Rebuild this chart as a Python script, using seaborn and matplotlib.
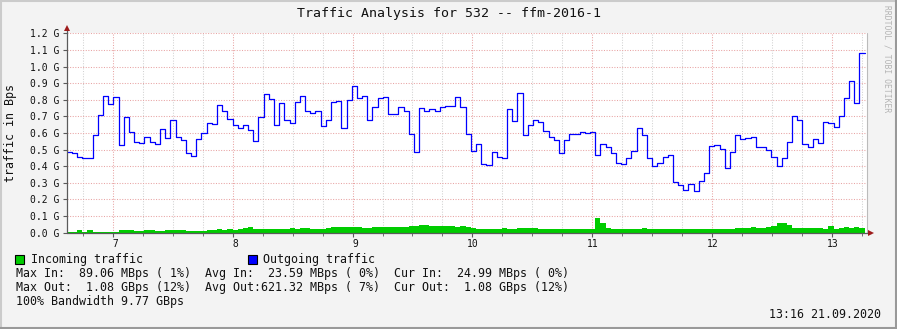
import numpy as np
import pandas as pd
import seaborn as sns
import matplotlib
matplotlib.use("Agg")
import matplotlib.pyplot as plt
from matplotlib.patches import Rectangle
from matplotlib.lines import Line2D
from matplotlib.ticker import FixedLocator, MultipleLocator

# ---------------- data (values in G Bps) ----------------
outgoing = [
    0.484, 0.478, 0.454, 0.448, 0.448, 0.586, 0.706, 0.821, 0.773, 0.815,
    0.526, 0.694, 0.604, 0.544, 0.538, 0.574, 0.544, 0.532, 0.622, 0.568,
    0.676, 0.574, 0.556, 0.478, 0.460,
    0.562, 0.598, 0.658, 0.652, 0.767, 0.732, 0.682, 0.646, 0.628, 0.646,
    0.616, 0.550, 0.694, 0.833, 0.803, 0.646, 0.779, 0.676, 0.658, 0.785,
    0.821, 0.730, 0.718, 0.730, 0.640, 0.676,
    0.785, 0.791, 0.628, 0.797, 0.881, 0.809, 0.821, 0.676, 0.755, 0.809,
    0.815, 0.712, 0.712, 0.755, 0.730, 0.592, 0.484, 0.749, 0.730, 0.742,
    0.730, 0.755, 0.761, 0.761, 0.815, 0.755,
    0.592, 0.490, 0.532, 0.411, 0.405, 0.484, 0.454, 0.448, 0.742, 0.670,
    0.839, 0.586, 0.646, 0.676, 0.664, 0.610, 0.574, 0.556, 0.478, 0.556,
    0.592, 0.592, 0.604, 0.598, 0.604, 0.466,
    0.532, 0.514, 0.478, 0.417, 0.411, 0.448, 0.490, 0.628, 0.586, 0.448,
    0.399, 0.417, 0.454, 0.466, 0.303, 0.285, 0.255, 0.291, 0.249, 0.309,
    0.357, 0.520, 0.526, 0.502, 0.387, 0.484,
    0.586, 0.562, 0.568, 0.574, 0.514, 0.514, 0.496, 0.454, 0.399, 0.448,
    0.544, 0.700, 0.676, 0.532, 0.514, 0.562, 0.538, 0.664, 0.658, 0.634,
    0.700, 0.809, 0.911, 0.779, 1.080,
]
incoming = [
    0.006, 0.006, 0.014, 0.006, 0.014, 0.006, 0.006, 0.006, 0.006, 0.006,
    0.014, 0.014, 0.014, 0.008, 0.008, 0.014, 0.014, 0.008, 0.008, 0.014,
    0.014, 0.014, 0.014, 0.008, 0.008,
    0.008, 0.008, 0.014, 0.014, 0.024, 0.014, 0.022, 0.014, 0.020, 0.028,
    0.034, 0.022, 0.022, 0.022, 0.022, 0.022, 0.022, 0.022, 0.028, 0.022,
    0.028, 0.028, 0.022, 0.022, 0.022, 0.028,
    0.034, 0.034, 0.034, 0.034, 0.034, 0.034, 0.028, 0.028, 0.034, 0.034,
    0.034, 0.034, 0.034, 0.034, 0.034, 0.040, 0.040, 0.046, 0.046, 0.040,
    0.040, 0.040, 0.040, 0.040, 0.034, 0.040,
    0.034, 0.028, 0.024, 0.024, 0.024, 0.024, 0.024, 0.028, 0.024, 0.024,
    0.028, 0.028, 0.028, 0.028, 0.022, 0.022, 0.022, 0.022, 0.022, 0.022,
    0.022, 0.022, 0.022, 0.022, 0.022, 0.086,
    0.058, 0.028, 0.022, 0.022, 0.022, 0.022, 0.022, 0.022, 0.028, 0.022,
    0.022, 0.022, 0.022, 0.022, 0.022, 0.022, 0.022, 0.022, 0.022, 0.022,
    0.022, 0.022, 0.022, 0.022, 0.022, 0.022,
    0.028, 0.028, 0.028, 0.034, 0.028, 0.028, 0.034, 0.040, 0.058, 0.058,
    0.046, 0.030, 0.030, 0.028, 0.028, 0.028, 0.028, 0.022, 0.040, 0.024,
    0.028, 0.034, 0.028, 0.034, 0.028,
]
t_start, t_end = 6.617, 13.270          # time span of the data (day of month)
x_range = (6.617, 13.287)
day_ticks = [7, 8, 9, 10, 11, 12, 13]
y_ticks = [0.0, 0.1, 0.2, 0.3, 0.4, 0.5, 0.6, 0.7, 0.8, 0.9, 1.0, 1.1, 1.2]

title = "Traffic Analysis for 532 -- ffm-2016-1"
ylabel = "traffic in Bps"
legend_in = "Incoming traffic"
legend_out = "Outgoing traffic"
stat_lines = [
    "Max In:  89.06 MBps ( 1%)  Avg In:  23.59 MBps ( 0%)  Cur In:  24.99 MBps ( 0%)",
    "Max Out:  1.08 GBps (12%)  Avg Out:621.32 MBps ( 7%)  Cur Out:  1.08 GBps (12%)",
    "100% Bandwidth 9.77 GBps",
]
timestamp = "13:16 21.09.2020"
watermark = "RRDTOOL / TOBI OETIKER"

# ---------------- style ----------------
sns.set_theme(style="white")
plt.rcParams["font.family"] = ["DejaVu Sans Mono", "DejaVu Sans"]

W, H = 897, 329
BG = "#F3F3F3"
fig = plt.figure(figsize=(W / 100, H / 100), dpi=100, facecolor=BG)

def fx(px):
    return px / W

def fy(py):
    return 1 - py / H

ax_left, ax_right, ax_top, ax_bottom = 66.7, 866.7, 33.3, 232.7
ax = fig.add_axes([fx(ax_left), fy(ax_bottom), (ax_right - ax_left) / W,
                   (ax_bottom - ax_top) / H])
ax.set_facecolor("white")

n = len(outgoing)
edges = t_start + (t_end - t_start) * np.arange(n + 1) / n
df = pd.DataFrame({
    "t": edges,
    "out": outgoing + [outgoing[-1]],
    "in": incoming + [incoming[-1]],
})

ax.fill_between(df["t"], df["in"], step="post", color="#00CC00", lw=0, zorder=2)
sns.lineplot(data=df, x="t", y="out", drawstyle="steps-post", color="#0000FF",
             lw=0.9, ax=ax, zorder=3)

ax.set_xlim(*x_range)
ax.set_ylim(0, 1.2)
ax.set_xlabel("")
ax.set_ylabel("")

# ticks & grid
ax.xaxis.set_major_locator(FixedLocator(day_ticks))
ax.xaxis.set_minor_locator(MultipleLocator(0.25))
ax.set_xticklabels([f"{d:2d}" for d in day_ticks])
ax.yaxis.set_major_locator(FixedLocator(y_ticks))
ax.set_yticklabels([f"{v:.1f} G" for v in y_ticks])

major_c = "#E8A4A4"
minor_c = "#D2D2D2"
ax.grid(which="major", axis="both", color=major_c, lw=0.75, ls=(0, (1, 1.5)))
ax.grid(which="minor", axis="x", color=minor_c, lw=0.75, ls=(0, (1, 1.5)))
ax.set_axisbelow(True)

axis_c = "#5A5A5A"
ax.tick_params(axis="y", which="major", length=3, width=0.8, color=axis_c,
               pad=2.4, labelsize=7, labelcolor="#111111", left=True)
ax.tick_params(axis="x", which="major", length=3, width=0.8, color=axis_c,
               pad=1.5, labelsize=7, labelcolor="#111111", bottom=True)
ax.tick_params(axis="x", which="minor", length=2, width=0.6, color=axis_c,
               bottom=True)
for s in ax.spines.values():
    s.set_visible(False)

# right edge line
ax.plot([1, 1], [0, 1], transform=ax.transAxes, color="#BBBBBB", lw=0.8,
        clip_on=False, zorder=4)
# axes with arrows
ax.plot([0, 0], [0, 1.028], transform=ax.transAxes, color=axis_c, lw=0.9,
        clip_on=False, zorder=5)
ax.plot([0, 1.005], [0, 0], transform=ax.transAxes, color=axis_c, lw=0.9,
        clip_on=False, zorder=5)
arrow_c = "#9E1B1B"
ax.plot([0], [1.028], transform=ax.transAxes, marker="^", ms=4.5, color=arrow_c,
        clip_on=False, zorder=6, mew=0)
ax.plot([1.005], [0], transform=ax.transAxes, marker=">", ms=4.5, color=arrow_c,
        clip_on=False, zorder=6, mew=0)

# texts
fig.text(0.5, fy(13), title, ha="center", va="center", fontsize=9.5,
         color="#111111")
fig.text(fx(11), fy(133), ylabel, ha="center", va="center", rotation=90,
         fontsize=8.4, color="#111111")
fig.text(fx(887), fy(5), watermark, ha="center", va="top", rotation=270,
         fontsize=5.8, color="#B4B4B4")

# legend
fig.add_artist(Rectangle((fx(15), fy(263.5)), 8.5 / W, 9 / H,
                         transform=fig.transFigure, facecolor="#00CC00",
                         edgecolor="black", lw=0.8))
fig.text(fx(30.5), fy(259), legend_in, ha="left", va="center", fontsize=8.4,
         color="#111111")
fig.add_artist(Rectangle((fx(248.3), fy(263.5)), 8.5 / W, 9 / H,
                         transform=fig.transFigure, facecolor="#0000FF",
                         edgecolor="black", lw=0.8))
fig.text(fx(263.3), fy(259), legend_out, ha="left", va="center", fontsize=8.4,
         color="#111111")
for i, line in enumerate(stat_lines):
    fig.text(fx(16), fy(273.3 + 14 * i), line, ha="left", va="center",
             fontsize=8.4, color="#111111")
fig.text(fx(880.5), fy(315), timestamp, ha="right", va="center", fontsize=8.4,
         color="#111111")

# frame (3D shading)
fig.add_artist(Line2D([0, 1], [fy(1), fy(1)], transform=fig.transFigure,
                      color="#CBCBCB", lw=1.5))
fig.add_artist(Line2D([fx(1), fx(1)], [0, 1], transform=fig.transFigure,
                      color="#CBCBCB", lw=1.5))
fig.add_artist(Line2D([0, 1], [fy(328), fy(328)], transform=fig.transFigure,
                      color="#999999", lw=1.5))
fig.add_artist(Line2D([fx(896), fx(896)], [0, 1], transform=fig.transFigure,
                      color="#999999", lw=1.5))

fig.savefig("out.png", dpi=100, facecolor=BG)
